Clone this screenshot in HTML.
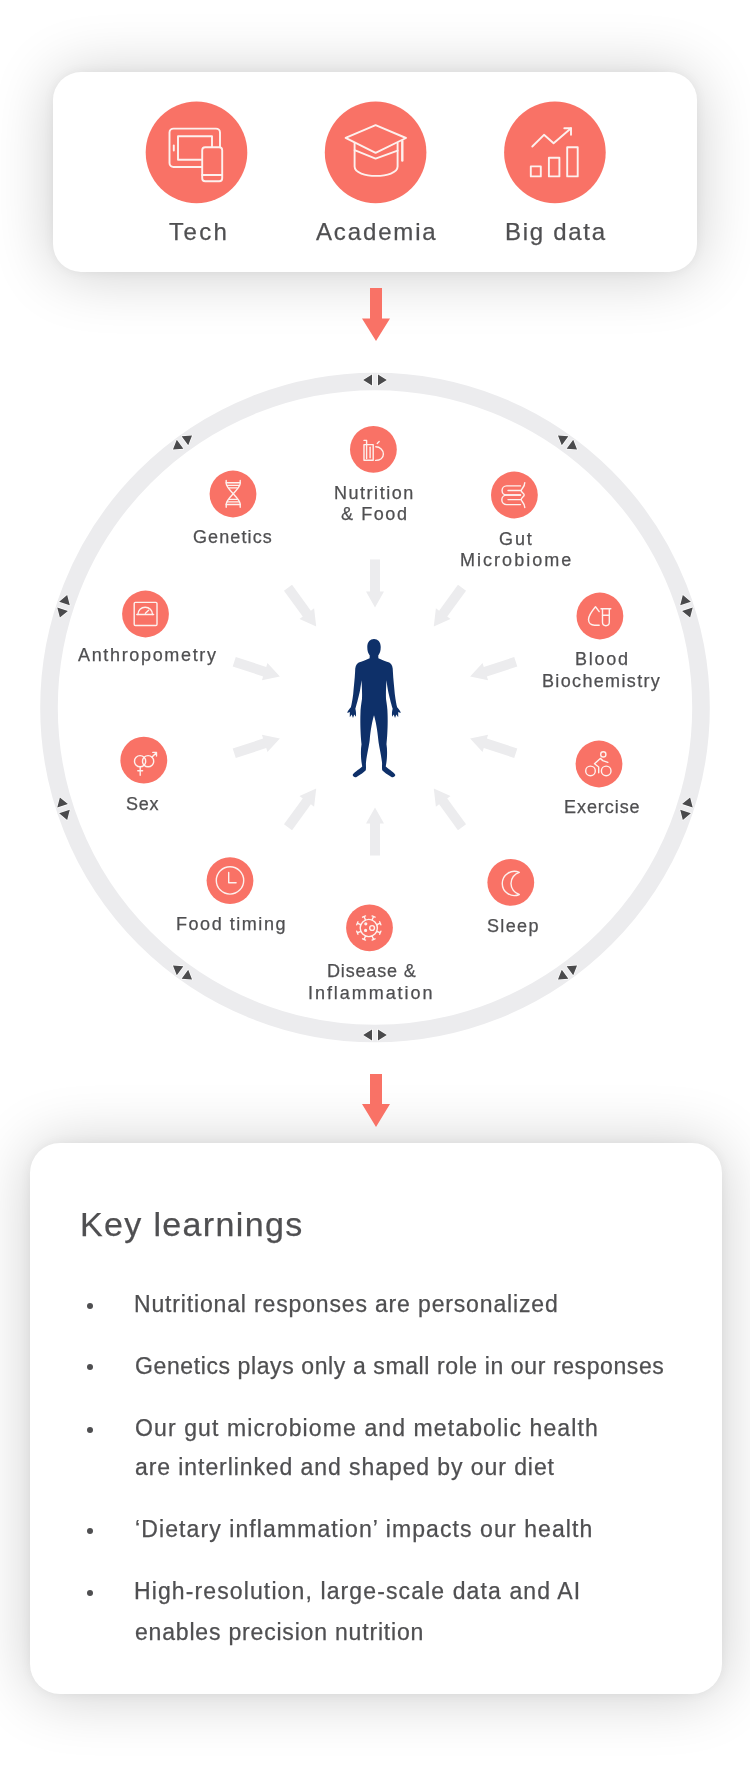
<!DOCTYPE html>
<html><head><meta charset="utf-8"><style>
html,body{margin:0;padding:0;background:#fff;}
body{width:750px;height:1790px;position:relative;overflow:hidden;font-family:"Liberation Sans",sans-serif;}
.card{position:absolute;background:#fff;}
#c1{left:53px;top:72px;width:644px;height:200px;border-radius:28px;box-shadow:0 0 12px rgba(0,0,0,0.05),0 2px 62px rgba(0,0,0,0.2);}
#c2{left:30px;top:1143px;width:692px;height:551px;border-radius:30px;box-shadow:0 0 12px rgba(0,0,0,0.05),0 2px 62px rgba(0,0,0,0.2);}
svg{position:absolute;left:0;top:0;}
.t{position:absolute;color:#4f4f51;white-space:nowrap;-webkit-text-stroke:0.25px #4f4f51;will-change:transform;}
.dot{position:absolute;left:86.5px;width:6px;height:6px;border-radius:50%;background:#4f4f51;}
</style></head><body>
<div class="card" id="c1"></div>
<div class="card" id="c2"></div>
<svg width="750" height="1790" viewBox="0 0 750 1790">
<circle cx="375" cy="707.5" r="326" fill="none" stroke="#ececee" stroke-width="17.6"/>
<g transform="translate(375.00,380.00) rotate(0)"><path d="M-11.8,0 L-3,-5.6 L-3,5.6 Z M11.8,0 L3,-5.6 L3,5.6 Z" fill="#4a4a4c" stroke="#fff" stroke-width="1.3" stroke-linejoin="round" paint-order="stroke"/></g>
<g transform="translate(567.50,442.55) rotate(36)"><path d="M-11.8,0 L-3,-5.6 L-3,5.6 Z M11.8,0 L3,-5.6 L3,5.6 Z" fill="#4a4a4c" stroke="#fff" stroke-width="1.3" stroke-linejoin="round" paint-order="stroke"/></g>
<g transform="translate(686.47,606.30) rotate(72)"><path d="M-11.8,0 L-3,-5.6 L-3,5.6 Z M11.8,0 L3,-5.6 L3,5.6 Z" fill="#4a4a4c" stroke="#fff" stroke-width="1.3" stroke-linejoin="round" paint-order="stroke"/></g>
<g transform="translate(686.47,808.70) rotate(108)"><path d="M-11.8,0 L-3,-5.6 L-3,5.6 Z M11.8,0 L3,-5.6 L3,5.6 Z" fill="#4a4a4c" stroke="#fff" stroke-width="1.3" stroke-linejoin="round" paint-order="stroke"/></g>
<g transform="translate(567.50,972.45) rotate(144)"><path d="M-11.8,0 L-3,-5.6 L-3,5.6 Z M11.8,0 L3,-5.6 L3,5.6 Z" fill="#4a4a4c" stroke="#fff" stroke-width="1.3" stroke-linejoin="round" paint-order="stroke"/></g>
<g transform="translate(375.00,1035.00) rotate(180)"><path d="M-11.8,0 L-3,-5.6 L-3,5.6 Z M11.8,0 L3,-5.6 L3,5.6 Z" fill="#4a4a4c" stroke="#fff" stroke-width="1.3" stroke-linejoin="round" paint-order="stroke"/></g>
<g transform="translate(182.50,972.45) rotate(216)"><path d="M-11.8,0 L-3,-5.6 L-3,5.6 Z M11.8,0 L3,-5.6 L3,5.6 Z" fill="#4a4a4c" stroke="#fff" stroke-width="1.3" stroke-linejoin="round" paint-order="stroke"/></g>
<g transform="translate(63.53,808.70) rotate(252)"><path d="M-11.8,0 L-3,-5.6 L-3,5.6 Z M11.8,0 L3,-5.6 L3,5.6 Z" fill="#4a4a4c" stroke="#fff" stroke-width="1.3" stroke-linejoin="round" paint-order="stroke"/></g>
<g transform="translate(63.53,606.30) rotate(288)"><path d="M-11.8,0 L-3,-5.6 L-3,5.6 Z M11.8,0 L3,-5.6 L3,5.6 Z" fill="#4a4a4c" stroke="#fff" stroke-width="1.3" stroke-linejoin="round" paint-order="stroke"/></g>
<g transform="translate(182.50,442.55) rotate(324)"><path d="M-11.8,0 L-3,-5.6 L-3,5.6 Z M11.8,0 L3,-5.6 L3,5.6 Z" fill="#4a4a4c" stroke="#fff" stroke-width="1.3" stroke-linejoin="round" paint-order="stroke"/></g>
<g transform="translate(375,707.5) rotate(0)"><path d="M-5,-148 L5,-148 L5,-116 L9,-116 L0,-100 L-9,-116 L-5,-116 Z" fill="#ececee"/></g>
<g transform="translate(375,707.5) rotate(36)"><path d="M-5,-148 L5,-148 L5,-116 L9,-116 L0,-100 L-9,-116 L-5,-116 Z" fill="#ececee"/></g>
<g transform="translate(375,707.5) rotate(72)"><path d="M-5,-148 L5,-148 L5,-116 L9,-116 L0,-100 L-9,-116 L-5,-116 Z" fill="#ececee"/></g>
<g transform="translate(375,707.5) rotate(108)"><path d="M-5,-148 L5,-148 L5,-116 L9,-116 L0,-100 L-9,-116 L-5,-116 Z" fill="#ececee"/></g>
<g transform="translate(375,707.5) rotate(144)"><path d="M-5,-148 L5,-148 L5,-116 L9,-116 L0,-100 L-9,-116 L-5,-116 Z" fill="#ececee"/></g>
<g transform="translate(375,707.5) rotate(180)"><path d="M-5,-148 L5,-148 L5,-116 L9,-116 L0,-100 L-9,-116 L-5,-116 Z" fill="#ececee"/></g>
<g transform="translate(375,707.5) rotate(216)"><path d="M-5,-148 L5,-148 L5,-116 L9,-116 L0,-100 L-9,-116 L-5,-116 Z" fill="#ececee"/></g>
<g transform="translate(375,707.5) rotate(252)"><path d="M-5,-148 L5,-148 L5,-116 L9,-116 L0,-100 L-9,-116 L-5,-116 Z" fill="#ececee"/></g>
<g transform="translate(375,707.5) rotate(288)"><path d="M-5,-148 L5,-148 L5,-116 L9,-116 L0,-100 L-9,-116 L-5,-116 Z" fill="#ececee"/></g>
<g transform="translate(375,707.5) rotate(324)"><path d="M-5,-148 L5,-148 L5,-116 L9,-116 L0,-100 L-9,-116 L-5,-116 Z" fill="#ececee"/></g>
<path d="M370,288 H382 V318.5 H390 L376,341 L362,318.5 H370 Z" fill="#f97266"/>
<path d="M370,1074 H382 V1104 H390 L376,1127 L362,1104 H370 Z" fill="#f97266"/>
<g transform="translate(334,630) scale(0.10666666666666667)"><path d="M375.0,85.0 C340.0,85.0 312.0,112.0 312.0,160.0 C312.0,195.0 320.0,222.0 335.0,238.0 L334.0,264.0 C300.0,282.0 258.0,292.0 232.0,305.0 C205.0,320.0 198.0,350.0 198.0,390.0 C195.0,460.0 185.0,540.0 180.0,600.0 C172.0,660.0 165.0,700.0 158.0,725.0 C140.0,745.0 122.0,768.0 126.0,778.0 L148.0,768.0 L148.0,818.0 L166.0,792.0 L178.0,826.0 L190.0,792.0 L206.0,814.0 C208.0,780.0 205.0,755.0 200.0,738.0 C215.0,690.0 235.0,610.0 245.0,560.0 C252.0,520.0 255.0,490.0 258.0,470.0 C262.0,540.0 265.0,600.0 262.0,650.0 C255.0,700.0 248.0,740.0 248.0,780.0 C244.0,880.0 250.0,1000.0 258.0,1070.0 C248.0,1130.0 252.0,1220.0 265.0,1280.0 C230.0,1310.0 180.0,1340.0 175.0,1360.0 C180.0,1380.0 200.0,1385.0 215.0,1375.0 C250.0,1355.0 280.0,1335.0 298.0,1315.0 C302.0,1290.0 298.0,1260.0 300.0,1240.0 C310.0,1160.0 330.0,1080.0 335.0,1030.0 C342.0,940.0 360.0,850.0 375.0,800.0 C390.0,850.0 408.0,940.0 415.0,1030.0 C420.0,1080.0 440.0,1160.0 450.0,1240.0 C452.0,1260.0 448.0,1290.0 452.0,1315.0 C470.0,1335.0 500.0,1355.0 535.0,1375.0 C550.0,1385.0 570.0,1380.0 575.0,1360.0 C570.0,1340.0 520.0,1310.0 485.0,1280.0 C498.0,1220.0 502.0,1130.0 492.0,1070.0 C500.0,1000.0 506.0,880.0 502.0,780.0 C502.0,740.0 495.0,700.0 488.0,650.0 C485.0,600.0 488.0,540.0 492.0,470.0 C495.0,490.0 498.0,520.0 505.0,560.0 C515.0,610.0 535.0,690.0 550.0,738.0 C545.0,755.0 542.0,780.0 544.0,814.0 L560.0,792.0 L572.0,826.0 L584.0,792.0 L602.0,818.0 L602.0,768.0 L624.0,778.0 C628.0,768.0 610.0,745.0 592.0,725.0 C585.0,700.0 578.0,660.0 570.0,600.0 C565.0,540.0 555.0,460.0 552.0,390.0 C552.0,350.0 545.0,320.0 518.0,305.0 C492.0,292.0 450.0,282.0 416.0,264.0 L415.0,238.0 C430.0,222.0 438.0,195.0 438.0,160.0 C438.0,112.0 410.0,85.0 375.0,85.0 Z" fill="#0e3069"/></g>
<circle cx="373.4" cy="449.4" r="23.4" fill="#f97266"/>
<circle cx="233" cy="494" r="23.4" fill="#f97266"/>
<circle cx="514.4" cy="495" r="23.4" fill="#f97266"/>
<circle cx="145.5" cy="614" r="23.4" fill="#f97266"/>
<circle cx="599.9" cy="616" r="23.4" fill="#f97266"/>
<circle cx="143.8" cy="760.2" r="23.4" fill="#f97266"/>
<circle cx="599" cy="764" r="23.4" fill="#f97266"/>
<circle cx="230" cy="880.6" r="23.4" fill="#f97266"/>
<circle cx="510.8" cy="882.4" r="23.4" fill="#f97266"/>
<circle cx="369.5" cy="927.8" r="23.4" fill="#f97266"/>
<circle cx="196.5" cy="152.4" r="50.8" fill="#f97266"/>
<circle cx="375.6" cy="152.4" r="50.8" fill="#f97266"/>
<circle cx="554.9" cy="152.4" r="50.8" fill="#f97266"/>
<g fill="none" stroke="#fdf1ee" stroke-width="1.5" stroke-linecap="round" stroke-linejoin="round">
<g stroke-width="1.9">
<path d="M202,167 H173.5 A4,4 0 0 1 169.5,163 V132.6 A4,4 0 0 1 173.5,128.6 H216 A4,4 0 0 1 220,132.6 V147"/>
<path d="M202,159.8 H178 V136.3 H212 V147"/>
<path d="M173.8,145.5 V150.5"/>
<rect x="202.2" y="147.2" width="20" height="34" rx="3"/>
<path d="M202.2,175 H222.2"/>
</g>
<g stroke-width="1.9">
<path d="M345.6,137.8 L375.6,125.2 L406,138 L375.6,152.8 Z"/>
<path d="M354.6,143 V166.5 C354.6,179 397.6,179 397.6,166.5 V143"/>
<path d="M354.6,150.2 L375.6,158.6 L397.6,150.6"/>
<path d="M402.3,141 V160.5" stroke-width="2.4"/>
</g>
<g stroke-width="1.9">
<path d="M532.3,146.5 L544,134.8 L553.6,143.3 L571,128.2"/>
<path d="M564.3,128.2 H571 V134.8"/>
<rect x="530.8" y="166.4" width="10" height="10"/>
<rect x="548.9" y="157.8" width="10.5" height="18.6"/>
<rect x="567.2" y="147.2" width="10.5" height="29.2"/>
</g>
<g stroke-width="1.4">
<path d="M364,444.6 H373.2 V460.2 H364 Z"/>
<path d="M366.6,458.6 V440.4 H364"/>
<path d="M370.1,447.2 V457.8"/>
<path d="M375.8,446.8 C380,446.8 383.4,450 383.4,454 C383.4,458 380,460.4 375.6,460.4"/>
<path d="M377.2,443.4 L379.2,441.6"/>
<path d="M226.2,480.4 V483.5 C226.2,489 240.2,498.5 240.2,504 V507.2"/>
<path d="M240.2,480.4 V483.5 C240.2,489 226.2,498.5 226.2,504 V507.2"/>
<path d="M226.2,482.8 H240.2"/>
<path d="M227.2,485.4 H239.2"/>
<path d="M229.3,487.9 H237.1"/>
<path d="M229.3,499.4 H237.1"/>
<path d="M227.2,501.9 H239.2"/>
<path d="M226.2,504.5 H240.2"/>
<path d="M520.5,485.9 H506.6 A4.55,4.55 0 0 0 506.6,495 H520.5"/>
<path d="M520.5,495 H506.6 A4.8,4.8 0 0 0 506.6,504.6 H520.5"/>
<path d="M508,490.5 H520.8 M508,499.6 H520.8"/>
<path d="M524.8,482.6 C524.8,487 521.2,489 521.2,490.6 C521.2,492.5 524.2,493.5 524.2,495 C524.2,496.6 521.2,497.6 521.2,499.6 C521.2,501.4 524.8,503 524.8,507.6"/>
<rect x="134.2" y="602.4" width="22.8" height="23.1" rx="1.2"/>
<path d="M136.8,614.5 H153.6"/>
<path d="M137.9,614.5 A7.3,7.3 0 0 1 152.5,614.5"/>
<path d="M145.4,613.2 L148.6,610.2"/>
<path d="M599.2,611.6 L595.5,606.8 C592,611 588.5,616 588.5,619.6 C588.5,623 591,625.2 594.5,625.2 H599.2"/>
<path d="M601,608.8 H610.8"/>
<path d="M602.5,608.8 V622.3 A3.4,3.4 0 0 0 609.3,622.3 V608.8"/>
<path d="M602.5,615.2 H609.3"/>
<circle cx="140.1" cy="761.2" r="5.6"/>
<circle cx="148.1" cy="761.2" r="5.6"/>
<path d="M140.2,766.8 V775.2 M137.8,770.8 H142.6"/>
<path d="M152.1,757 L156.5,752.4 M152.8,752.4 H156.5 V756"/>
<circle cx="603.3" cy="754.4" r="2.6"/>
<circle cx="590.5" cy="770.9" r="4.8"/>
<circle cx="606.2" cy="770.9" r="4.8"/>
<path d="M607.8,762.4 L602.8,760.6 L600.3,758.4 L594.5,763.8 L598.7,767 V772.8"/>
<circle cx="230" cy="880.4" r="13.7"/>
<path d="M228.7,872.5 V882.7 H236.1"/>
<path d="M519.3,872.4 A12.1,12.1 0 1 0 519.3,894.5 A11.5,11.5 0 0 1 519.3,872.4 Z"/>
<circle cx="368.8" cy="928" r="8.6"/>
<path d="M376.75,924.71 L380.26,923.25 M379.64,921.78 L380.87,924.73"/>
<path d="M372.09,920.05 L373.55,916.54 M372.07,915.93 L375.02,917.16"/>
<path d="M365.51,920.05 L364.05,916.54 M362.58,917.16 L365.53,915.93"/>
<path d="M360.85,924.71 L357.34,923.25 M356.73,924.73 L357.96,921.78"/>
<path d="M360.85,931.29 L357.34,932.75 M357.96,934.22 L356.73,931.27"/>
<path d="M365.51,935.95 L364.05,939.46 M365.53,940.07 L362.58,938.84"/>
<path d="M372.09,935.95 L373.55,939.46 M375.02,938.84 L372.07,940.07"/>
<path d="M376.75,931.29 L380.26,932.75 M380.87,931.27 L379.64,934.22"/>
<circle cx="372.1" cy="928" r="2.4"/>
<circle cx="365.8" cy="923.8" r="0.9" fill="#fdf1ee"/>
<circle cx="365.6" cy="930.4" r="0.9" fill="#fdf1ee"/>
</g>
</g>
</svg>
<div class="t" style="left:168.80px;top:219.68px;font-size:24px;line-height:24px;letter-spacing:2.4px">Tech</div>
<div class="t" style="left:316.00px;top:219.68px;font-size:24px;line-height:24px;letter-spacing:1.857px">Academia</div>
<div class="t" style="left:504.70px;top:219.68px;font-size:24px;line-height:24px;letter-spacing:1.714px">Big data</div>
<div class="t" style="left:334.20px;top:483.66px;font-size:18px;line-height:18px;letter-spacing:1.525px">Nutrition</div>
<div class="t" style="left:340.60px;top:504.66px;font-size:18px;line-height:18px;letter-spacing:1.58px">&amp; Food</div>
<div class="t" style="left:192.50px;top:527.86px;font-size:18px;line-height:18px;letter-spacing:1.1px">Genetics</div>
<div class="t" style="left:499.30px;top:529.86px;font-size:18px;line-height:18px;letter-spacing:1.9px">Gut</div>
<div class="t" style="left:460.30px;top:551.26px;font-size:18px;line-height:18px;letter-spacing:2.033px">Microbiome</div>
<div class="t" style="left:78.10px;top:646.06px;font-size:18px;line-height:18px;letter-spacing:1.658px">Anthropometry</div>
<div class="t" style="left:574.70px;top:649.66px;font-size:18px;line-height:18px;letter-spacing:1.725px">Blood</div>
<div class="t" style="left:542.00px;top:671.66px;font-size:18px;line-height:18px;letter-spacing:1.345px">Biochemistry</div>
<div class="t" style="left:126.00px;top:795.06px;font-size:18px;line-height:18px;letter-spacing:0.8px">Sex</div>
<div class="t" style="left:563.70px;top:797.96px;font-size:18px;line-height:18px;letter-spacing:0.943px">Exercise</div>
<div class="t" style="left:176.20px;top:915.06px;font-size:18px;line-height:18px;letter-spacing:1.54px">Food timing</div>
<div class="t" style="left:486.80px;top:916.86px;font-size:18px;line-height:18px;letter-spacing:1.35px">Sleep</div>
<div class="t" style="left:326.60px;top:962.06px;font-size:18px;line-height:18px;letter-spacing:0.825px">Disease &amp;</div>
<div class="t" style="left:308.30px;top:983.56px;font-size:18px;line-height:18px;letter-spacing:1.945px">Inflammation</div>
<div class="t" style="left:79.80px;top:1206.92px;font-size:34px;line-height:34px;letter-spacing:1.35px">Key learnings</div>
<div class="t" style="left:134.00px;top:1293.03px;font-size:23px;line-height:23px;letter-spacing:0.843px">Nutritional responses are personalized</div>
<div class="t" style="left:135.00px;top:1354.53px;font-size:23px;line-height:23px;letter-spacing:0.604px">Genetics plays only a small role in our responses</div>
<div class="t" style="left:135.00px;top:1416.83px;font-size:23px;line-height:23px;letter-spacing:1.108px">Our gut microbiome and metabolic health</div>
<div class="t" style="left:135.00px;top:1456.43px;font-size:23px;line-height:23px;letter-spacing:0.922px">are interlinked and shaped by our diet</div>
<div class="t" style="left:135.00px;top:1518.03px;font-size:23px;line-height:23px;letter-spacing:1.1px">&#8216;Dietary inflammation&#8217; impacts our health</div>
<div class="t" style="left:134.00px;top:1580.23px;font-size:23px;line-height:23px;letter-spacing:1.115px">High-resolution, large-scale data and AI</div>
<div class="t" style="left:135.00px;top:1620.73px;font-size:23px;line-height:23px;letter-spacing:0.812px">enables precision nutrition</div>
<div class="dot" style="top:1302.90px"></div>
<div class="dot" style="top:1364.40px"></div>
<div class="dot" style="top:1426.70px"></div>
<div class="dot" style="top:1527.90px"></div>
<div class="dot" style="top:1590.10px"></div>
</body></html>
